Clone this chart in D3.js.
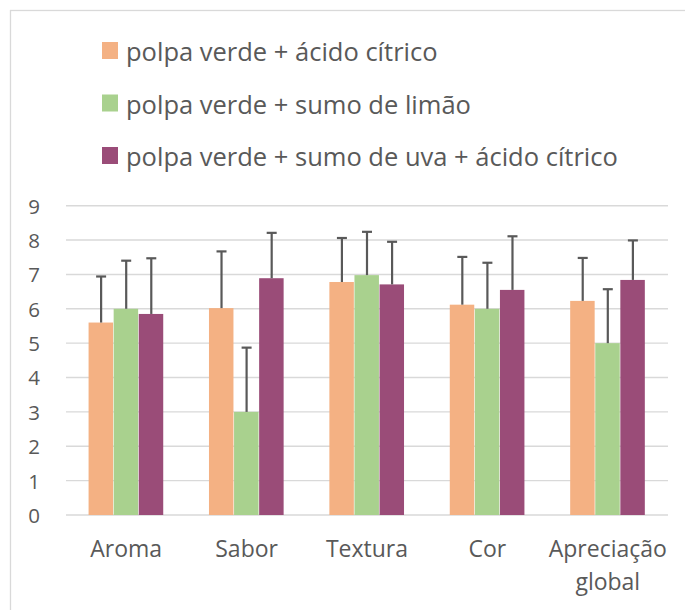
<!DOCTYPE html>
<meta charset="utf-8">
<script src="https://d3js.org/d3.v7.min.js"></script>
<style>
  body { margin: 0; background: #fff; }
  text { font-family: "Open Sans", sans-serif; fill: #595959; }
</style>
<div id="my_dataviz"></div>
<script>

// categories and series
var categories = ["Aroma", "Sabor", "Textura", "Cor", "Apreciação global"];
var seriesNames = ["polpa verde + ácido cítrico", "polpa verde + sumo de limão", "polpa verde + sumo de uva + ácido cítrico"];
var citrico = [5.6, 6.02, 6.78, 6.12, 6.23];
var limao = [6.0, 3.0, 6.98, 6.0, 5.0];
var uva = [5.85, 6.89, 6.71, 6.55, 6.84];
// standard deviations (error bars, plus side only)
var citricoSd = [1.34, 1.65, 1.28, 1.39, 1.25];
var limaoSd = [1.40, 1.87, 1.26, 1.34, 1.57];
var uvaSd = [1.62, 1.32, 1.24, 1.56, 1.15];
var yTicks = [0, 1, 2, 3, 4, 5, 6, 7, 8, 9];

var colors = ["#F4B183", "#A9D18E", "#9A4C78"];

var width = 685, height = 610;
var plot = {left: 66, right: 668, top: 205.7, bottom: 515};

var svg = d3.select("#my_dataviz")
  .append("svg")
    .attr("width", width)
    .attr("height", height);

// chart area border
svg.append("rect")
  .attr("x", 10.5).attr("y", 10.5)
  .attr("width", 720).attr("height", 660)
  .attr("fill", "none")
  .attr("stroke", "#D9D9D9")
  .attr("stroke-width", 1.3);

var x = d3.scaleBand()
  .domain(categories)
  .range([plot.left, plot.right])
  .paddingInner(0.375)
  .paddingOuter(0.1875);

var xSub = d3.scaleBand()
  .domain(d3.range(seriesNames.length))
  .range([0, x.bandwidth()]);

var y = d3.scaleLinear()
  .domain([0, 9])
  .range([plot.bottom, plot.top]);

// gridlines
svg.append("g")
  .selectAll("line")
  .data(yTicks)
  .enter().append("line")
    .attr("x1", plot.left).attr("x2", plot.right)
    .attr("y1", function(d) { return y(d); })
    .attr("y2", function(d) { return y(d); })
    .attr("stroke", "#D9D9D9")
    .attr("stroke-width", 1.4);

// y axis labels
var yAxis = svg.append("g")
  .attr("transform", "translate(40,0)")
  .call(d3.axisLeft(y).tickValues(yTicks).tickSize(0).tickPadding(0));
yAxis.select(".domain").remove();
yAxis.selectAll("text")
  .attr("font-size", "20.5px")
  .attr("font-family", "Open Sans")
  .attr("fill", "#595959")
  .attr("dy", "0.36em");

var values = [citrico, limao, uva];
var sds = [citricoSd, limaoSd, uvaSd];

var rows = [];
categories.forEach(function(c, i) {
  values.forEach(function(v, s) {
    rows.push({cat: c, s: s, value: v[i], sd: sds[s][i]});
  });
});

// bars
svg.append("g")
  .selectAll("rect")
  .data(rows)
  .enter().append("rect")
    .attr("x", function(d) { return x(d.cat) + xSub(d.s); })
    .attr("y", function(d) { return y(d.value); })
    .attr("width", xSub.bandwidth() - 0.6)
    .attr("height", function(d) { return y(0) - y(d.value); })
    .attr("fill", function(d) { return colors[d.s]; });

// error bars
var err = svg.append("g")
  .attr("stroke", "#595959")
  .attr("stroke-width", 2.2);
rows.forEach(function(d) {
  var cx = x(d.cat) + xSub(d.s) + xSub.bandwidth() / 2;
  err.append("line")
    .attr("x1", cx).attr("x2", cx)
    .attr("y1", y(d.value)).attr("y2", y(d.value + d.sd));
  err.append("line")
    .attr("x1", cx - 5).attr("x2", cx + 5)
    .attr("y1", y(d.value + d.sd)).attr("y2", y(d.value + d.sd));
});

// category labels
svg.append("g")
  .selectAll("text")
  .data(categories)
  .enter().append("text")
    .attr("x", function(d) { return x(d) + x.bandwidth() / 2; })
    .attr("y", 557)
    .attr("text-anchor", "middle")
    .attr("font-size", "23px")
    .each(function(d) {
      var words = d.split(" ");
      var t = d3.select(this);
      words.forEach(function(w, i) {
        t.append("tspan")
          .attr("x", x(d) + x.bandwidth() / 2)
          .attr("dy", i === 0 ? 0 : 33)
          .text(w);
      });
    });

// legend
var legend = svg.append("g");
seriesNames.forEach(function(name, i) {
  legend.append("rect")
    .attr("x", 102).attr("y", 42 + i * 52.5)
    .attr("width", 16).attr("height", 17)
    .attr("fill", colors[i]);
  legend.append("text")
    .attr("x", 126).attr("y", 61 + i * 52.5)
    .attr("font-size", "25.5px")
    .text(name);
});

</script>
